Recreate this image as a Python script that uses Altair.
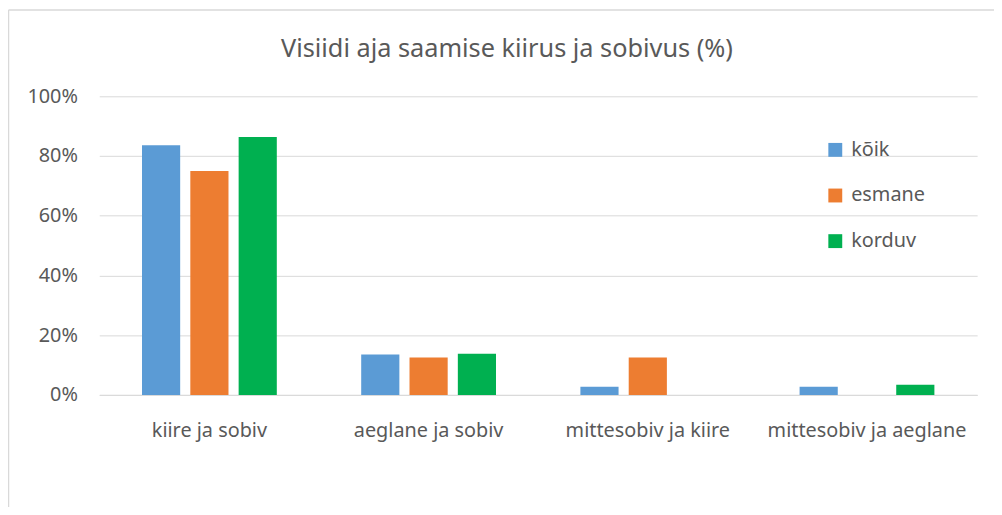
import altair as alt
import pandas as pd

categories = ["kiire ja sobiv", "aeglane ja sobiv", "mittesobiv ja kiire", "mittesobiv ja aeglane"]
series = ["kõik", "esmane", "korduv"]
koik = [83.6, 13.5, 2.7, 2.7]
esmane = [75.0, 12.5, 12.5, 0.0]
korduv = [86.4, 13.8, 0.0, 3.4]
colors = ["#5B9BD5", "#ED7D31", "#00B050"]
y_ticks = [0, 0.2, 0.4, 0.6, 0.8, 1.0]
title_text = "Visiidi aja saamise kiirus ja sobivus (%)"

rows = []
for i, c in enumerate(categories):
    for s, vals in zip(series, [koik, esmane, korduv]):
        rows.append({"kategooria": c, "grupp": s, "vaartus": vals[i] / 100})
df = pd.DataFrame(rows)

FONT = "Noto Sans"
GREY = "#595959"
GRID = "#D9D9D9"

bars = alt.Chart(df).mark_bar().encode(
    x=alt.X("kategooria:N", sort=categories, title=None,
            scale=alt.Scale(paddingInner=0.385, paddingOuter=0.195),
            axis=alt.Axis(labelAngle=0, ticks=False, domain=True, domainColor=GRID,
                          labelPadding=26, labelFontSize=20, labelColor=GREY, labelFont=FONT,
                          labelLimit=400)),
    xOffset=alt.XOffset("grupp:N", sort=series,
                        scale=alt.Scale(paddingInner=0.21, paddingOuter=0)),
    y=alt.Y("vaartus:Q", title=None,
            scale=alt.Scale(domain=[0, 1], nice=False),
            axis=alt.Axis(values=y_ticks, format=".0%", ticks=False, domain=False,
                          grid=True, gridColor=GRID, gridWidth=1,
                          labelPadding=22, labelFontSize=20, labelColor=GREY, labelFont=FONT)),
    color=alt.Color("grupp:N", sort=series, title=None,
                    scale=alt.Scale(domain=series, range=colors),
                    legend=alt.Legend(orient="none", legendX=732, legendY=44,
                                      symbolType="square", symbolSize=196, symbolStrokeWidth=0,
                                      labelFontSize=20, labelColor=GREY, labelFont=FONT,
                                      labelOffset=6, rowPadding=26)),
)

frame_left = alt.Chart(alt.Data(values=[{}])).mark_rule(
    stroke=GRID, strokeWidth=1.5
).encode(
    x=alt.value(-91.5), y=alt.value(-87), y2=alt.value(430)
)
frame_top = alt.Chart(alt.Data(values=[{}])).mark_rule(
    stroke=GRID, strokeWidth=1.5
).encode(
    x=alt.value(-91.5), x2=alt.value(902), y=alt.value(-87)
)

title = alt.Chart(alt.Data(values=[{"t": title_text}])).mark_text(
    font=FONT, fontSize=25.5, color=GREY, align="center", baseline="middle"
).encode(
    text="t:N", x=alt.value(411), y=alt.value(-48)
)

chart = alt.layer(frame_left, frame_top, bars, title).properties(
    width=885, height=301,
    autosize=alt.AutoSizeParams(type="none"),
    padding={"left": 92, "top": 87, "right": 17, "bottom": 111},
).configure_view(stroke=None)

chart.save("out.html", embed_options={"renderer": "svg", "actions": False})
